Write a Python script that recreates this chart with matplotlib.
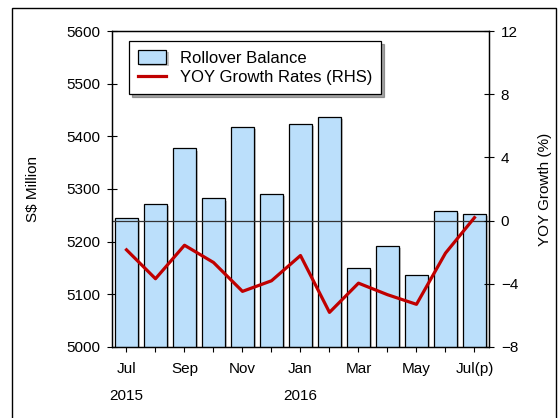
import matplotlib
matplotlib.use('Agg')
import matplotlib.pyplot as plt
import matplotlib.patheffects as pe
from matplotlib.patches import Rectangle

plt.rcParams['font.family'] = ['Liberation Sans', 'DejaVu Sans']

# data
months = ['Jul', 'Aug', 'Sep', 'Oct', 'Nov', 'Dec', 'Jan', 'Feb', 'Mar', 'Apr', 'May', 'Jun', 'Jul(p)']
balance = [5245, 5271, 5377, 5282, 5418, 5290, 5424, 5437, 5150, 5191, 5137, 5258, 5253]
growth = [-1.85, -3.68, -1.56, -2.65, -4.48, -3.81, -2.21, -5.81, -3.96, -4.69, -5.3, -2.06, 0.19]
years = {'2015': 0, '2016': 6}

x = list(range(len(months)))
shown = [m if i % 2 == 0 else '' for i, m in enumerate(months)]
fs = 11

fig = plt.figure(figsize=(5.58, 4.18), dpi=100)
ax = fig.add_axes([0.2007, 0.1699, 0.6756, 0.7559])

shadow = [pe.SimplePatchShadow(offset=(1.5, -1.5), shadow_rgbFace='#888888', alpha=0.5), pe.Normal()]
bars = ax.bar(x, balance, width=0.8, bottom=0, color='#BBDFFB', edgecolor='black',
              linewidth=0.9, label='Rollover Balance', zorder=2)
for b in bars:
    b.set_path_effects(shadow)
ax.set_ylim(5000, 5600)
ax.set_xlim(-0.5, 12.5)
ax.set_yticks([5000, 5100, 5200, 5300, 5400, 5500, 5600])
ax.set_xticks(x)
ax.set_xticklabels(shown)
ax.tick_params(axis='both', direction='inout', length=7, width=0.8, labelsize=fs)
ax.tick_params(axis='x', pad=7)
ax.tick_params(axis='y', pad=5)
ax.set_ylabel('S$ Million', fontsize=fs, labelpad=19)
for yr, pos in years.items():
    ax.annotate(yr, xy=(pos, 0), xycoords=('data', 'axes fraction'),
                xytext=(0, -38), textcoords='offset points', ha='center', fontsize=fs)

ax2 = ax.twinx()
ax2.axhline(0, color='#333333', linewidth=0.9, zorder=1)
line, = ax2.plot(x, growth, color='#C00000', linewidth=2.3, label='YOY Growth Rates (RHS)', zorder=3)
ax2.set_ylim(-8, 12)
ax2.set_yticks([-8, -4, 0, 4, 8, 12])
ax2.tick_params(axis='y', direction='inout', length=7, width=0.8, labelsize=fs, pad=5)
ax2.set_ylabel('YOY Growth (%)', fontsize=fs, labelpad=14)

leg = ax2.legend([bars, line], ['Rollover Balance', 'YOY Growth Rates (RHS)'],
                 loc='upper left', bbox_to_anchor=(0.045, 0.968), fontsize=12,
                 frameon=True, fancybox=False, shadow=True, borderpad=0.55, borderaxespad=0,
                 handlelength=1.7, handleheight=0.9, handletextpad=0.8, labelspacing=0.2)
leg.get_frame().set_edgecolor('black')
leg.get_frame().set_linewidth(0.9)

for a in (ax, ax2):
    for s in a.spines.values():
        s.set_linewidth(0.9)

fig.patches.append(Rectangle((12 / 558, -0.05), 544 / 558, 1.05 - 8 / 418, transform=fig.transFigure,
                             fill=False, edgecolor='black', linewidth=1.0))

plt.savefig('out.png', dpi=100)
